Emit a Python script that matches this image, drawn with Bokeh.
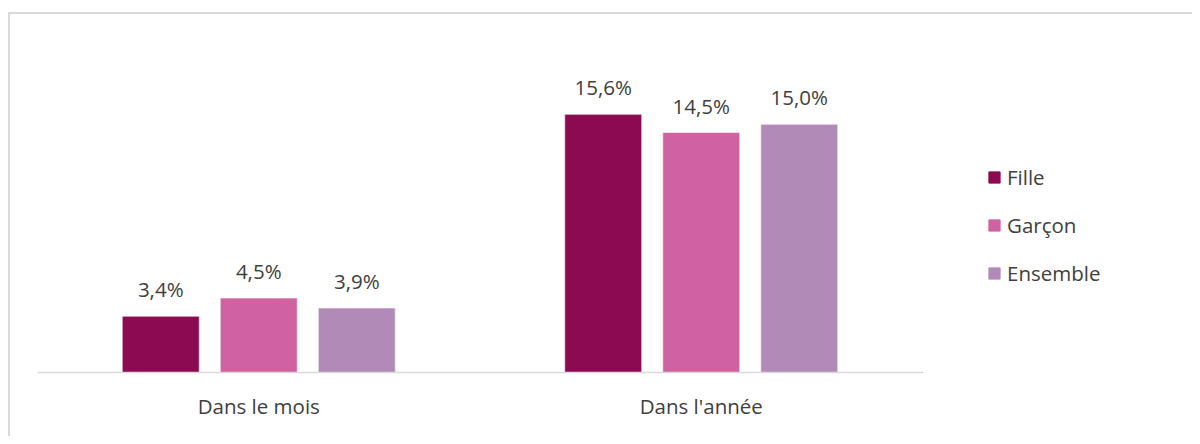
from bokeh.plotting import figure
from bokeh.layouts import row
from bokeh.models import ColumnDataSource, Range1d, FactorRange, Legend, LegendItem, InlineStyleSheet
from bokeh.transform import dodge
from bokeh.core.properties import value
from bokeh.embed import file_html
from bokeh.resources import INLINE

categories = ["Dans le mois", "Dans l'année"]
series = ["Fille", "Garçon", "Ensemble"]
fille = [3.4, 15.6]
garcon = [4.5, 14.5]
ensemble = [3.9, 15.0]
colors = ["#8B0A52", "#D062A2", "#B28AB8"]

FONT = "Open Sans"
TXT = "#404040"
FS = "20.5px"
GRID = "#d9d9d9"

src = ColumnDataSource(dict(
    cat=categories,
    Fille=fille, Garcon=garcon, Ensemble=ensemble,
    lf=[f"{v:.1f}%".replace(".", ",") for v in fille],
    lg=[f"{v:.1f}%".replace(".", ",") for v in garcon],
    le=[f"{v:.1f}%".replace(".", ",") for v in ensemble],
))

# main chart: frame x 37..922, y 13..372 (16.55 px per percent point)
p = figure(width=922, height=436, output_backend="svg", toolbar_location=None,
           x_range=FactorRange(*categories, range_padding=0),
           y_range=Range1d(0, 359 / 16.55), y_axis_location=None,
           min_border_left=37, min_border_right=0, min_border_top=13, min_border_bottom=64)
p.outline_line_color = None
p.background_fill_alpha = 0
p.border_fill_alpha = 0
p.xgrid.grid_line_color = None
p.ygrid.grid_line_color = None

ax = p.xaxis[0]
ax.axis_line_color = GRID
ax.axis_line_width = 1.5
ax.major_tick_line_color = None
ax.minor_tick_line_color = None
ax.major_label_text_font = FONT
ax.major_label_text_font_size = FS
ax.major_label_text_color = TXT
ax.major_label_standoff = 13

offsets = [-0.2215, 0.0, 0.2215]
cols = ["Fille", "Garcon", "Ensemble"]
labs = ["lf", "lg", "le"]
for off, col, lab, color in zip(offsets, cols, labs, colors):
    p.vbar(x=dodge("cat", off, range=p.x_range), top=col, width=0.174, bottom=0,
           source=src, fill_color=color, line_color="white", line_width=1, line_alpha=0.6)
    p.text(x=dodge("cat", off, range=p.x_range), y=col, text=lab, source=src,
           text_align="center", text_baseline="alphabetic", y_offset=-27,
           text_font=value(FONT), text_font_size=FS, text_color=TXT)

p.stylesheets = [InlineStyleSheet(css=f"""
:host {{ position: relative; }}
:host::before {{
  content: ""; position: absolute; left: 8px; top: 12px; right: 0; bottom: 0;
  border-left: 2px solid {GRID}; border-top: 2px solid {GRID};
  pointer-events: none; z-index: 10;
}}
""")]

# legend panel (same colours as the bars); swatch renderers sit outside the visible range
q = figure(width=270, height=436, output_backend="svg", toolbar_location=None,
           x_range=Range1d(0, 1), y_range=Range1d(0, 1),
           x_axis_location=None, y_axis_location=None,
           min_border_left=0, min_border_right=0, min_border_top=0, min_border_bottom=0)
q.outline_line_color = None
q.background_fill_alpha = 0
q.border_fill_alpha = 0
q.xgrid.grid_line_color = None
q.ygrid.grid_line_color = None
sw_src = ColumnDataSource(dict(x=[-5.0], top=[0.0]))
swatches = []
for color in colors:
    swatches.append(q.vbar(x="x", top="top", width=0.1, source=sw_src,
                           fill_color=color, line_color=color))

legend = Legend(items=[LegendItem(label=s, renderers=[r]) for s, r in zip(series, swatches)],
                location=(65, 85), orientation="vertical")
legend.glyph_width = 14
legend.glyph_height = 14
legend.label_height = 27
legend.spacing = 20
legend.padding = 0
legend.margin = 0
legend.label_standoff = 6
legend.label_text_font = FONT
legend.label_text_font_size = FS
legend.label_text_color = TXT
legend.border_line_color = None
legend.background_fill_alpha = 0
q.add_layout(legend, "center")

q.stylesheets = [InlineStyleSheet(css=f"""
:host {{ position: relative; }}
:host::before {{
  content: ""; position: absolute; left: 0; top: 12px; right: 0; bottom: 0;
  border-top: 2px solid {GRID};
  pointer-events: none; z-index: 10;
}}
""")]

layout = row(p, q, spacing=0)
open("out.html", "w").write(file_html(layout, INLINE))
